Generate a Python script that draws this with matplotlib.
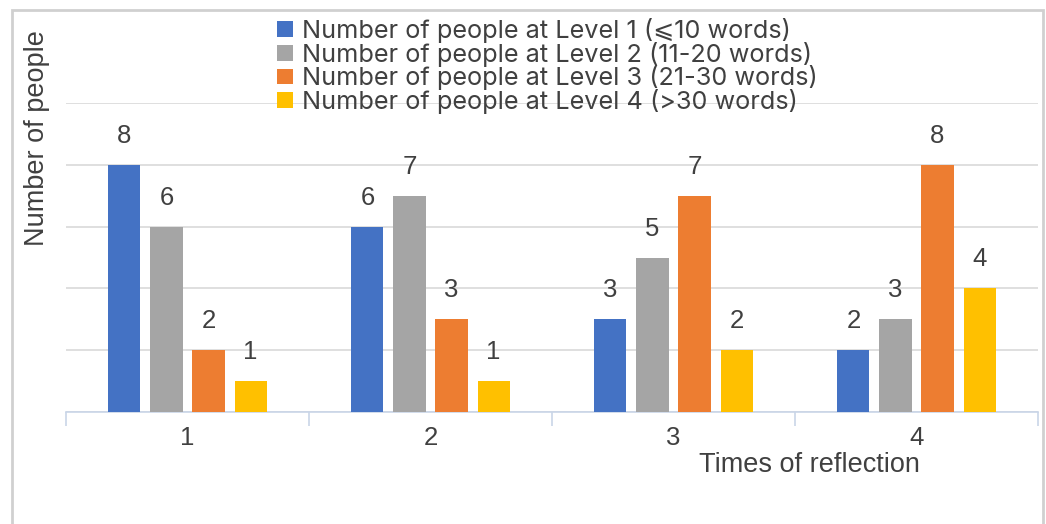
import numpy as np
import matplotlib.pyplot as plt
from matplotlib.patches import Rectangle

plt.rcParams['font.family'] = ['Liberation Sans', 'DejaVu Sans']

times = [1, 2, 3, 4]
level1 = [8, 6, 3, 2]
level2 = [6, 7, 5, 3]
level3 = [2, 3, 7, 8]
level4 = [1, 1, 2, 4]
labels = ['Number of people at Level 1 (⩽10 words)',
          'Number of people at Level 2 (11-20 words)',
          'Number of people at Level 3 (21-30 words)',
          'Number of people at Level 4 (>30 words)']
colors = ['#4472C4', '#A5A5A5', '#ED7D31', '#FFC000']

txt = '#404040'
fig = plt.figure(figsize=(10.46, 5.24), dpi=100)
ax = fig.add_axes([66/1046, 112/524, 972/1046, 309/524])

# outer frame, open at the bottom
fig.patches.append(Rectangle((12/1046, -0.1), 1031/1046, 1.1 - 10/524,
                             transform=fig.transFigure, fill=False,
                             edgecolor='#D0D0D0', linewidth=2))

x = np.array(times)
step = 0.173
width = 0.132
series = [level1, level2, level3, level4]
for i, (vals, lab, col) in enumerate(zip(series, labels, colors)):
    pos = x + (i - 1.5) * step
    bars = ax.bar(pos, vals, width, color=col, label=lab, zorder=3)
    for b, v in zip(bars, vals):
        ax.text(b.get_x() + b.get_width()/2, v + 0.71, str(v),
                ha='center', va='baseline', fontsize=18.5, color=txt)

ax.set_xlim(0.5, 4.5)
ax.set_ylim(0, 10)
ax.set_yticks(np.arange(0, 11, 2))
ax.yaxis.grid(True, color='#D9D9D9', linewidth=1.2, zorder=0)
ax.tick_params(axis='y', length=0, labelleft=False)

ax.set_xticks([0.5, 1.5, 2.5, 3.5, 4.5])
ax.set_xticklabels([])
ax.tick_params(axis='x', which='major', length=10, color='#C9D5E8', width=1.2)
ax.set_xticks(times, minor=True)
ax.set_xticklabels([str(t) for t in times], minor=True)
ax.tick_params(axis='x', which='minor', length=0, labelsize=18.5,
               labelcolor=txt, pad=10)

for s in ['top', 'right', 'left']:
    ax.spines[s].set_visible(False)
ax.spines['bottom'].set_color('#C9D5E8')
ax.spines['bottom'].set_linewidth(1.2)

fig.text(809/1046, 1 - 472/524, 'Times of reflection', ha='center',
         va='baseline', fontsize=19.5, color=txt)
fig.text(37/1046, 1 - 138/524, 'Number of people', rotation=90,
         ha='center', va='center', fontsize=19.5, color=txt)

leg = fig.legend(loc='upper left', bbox_to_anchor=(277/1046, 1 - 18/524),
                 frameon=False, handlelength=0.63, handleheight=0.59,
                 handletextpad=0.36, labelspacing=-0.05, borderpad=0,
                 borderaxespad=0, labelcolor=txt,
                 prop={'family': ['Inter', 'DejaVu Sans'], 'size': 18.2})

fig.savefig('out.png', dpi=100, facecolor='white')
